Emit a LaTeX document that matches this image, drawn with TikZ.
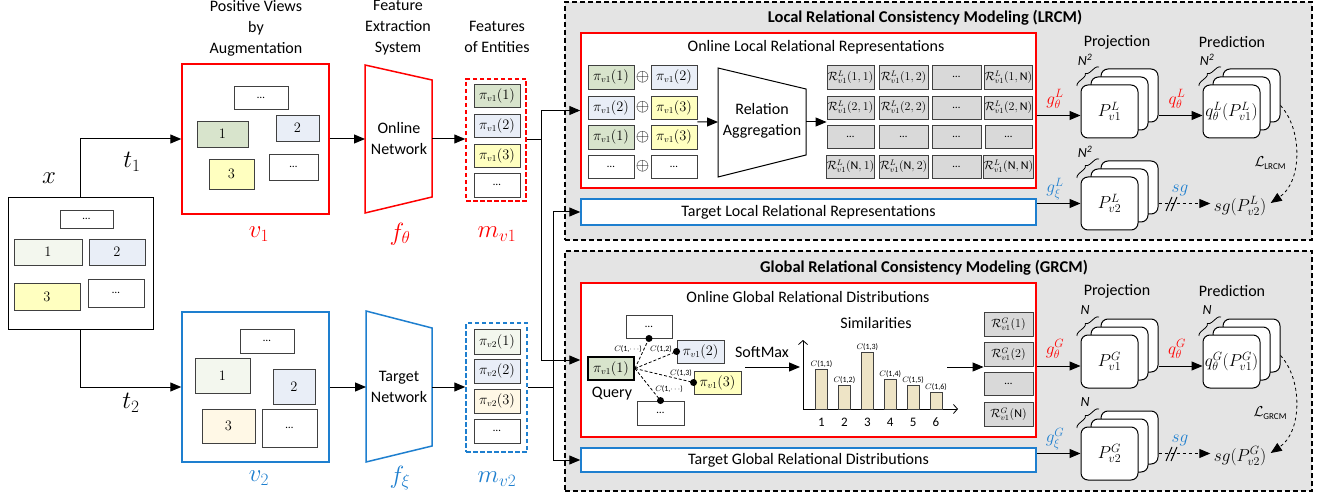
\documentclass[tikz,border=0pt]{standalone}
\usepackage{fontspec}
\setmainfont{Carlito}
\usetikzlibrary{arrows.meta,decorations.pathreplacing,calc}
\definecolor{myred}{HTML}{FF0000}
\definecolor{myblue}{HTML}{1E7FCF}
\definecolor{cgreen}{HTML}{D8E4CC}
\definecolor{cpgreen}{HTML}{F3F7EE}
\definecolor{cblue}{HTML}{E9EEF7}
\definecolor{cyellow}{HTML}{FFFFC0}
\definecolor{corange}{HTML}{FFF8E6}
\definecolor{cgray}{HTML}{D9D9D9}
\definecolor{bggray}{HTML}{E4E4E4}
\definecolor{barc}{HTML}{EEE4C6}
\definecolor{bdr}{HTML}{404040}
\newcommand{\fsz}[1]{\fontsize{#1}{#1}\selectfont}
\newcommand{\mybox}[7]{\node[#6, minimum width={(#4-#2)*1pt}, minimum height={(#5-#3)*1pt}] (#1) at ({(#2+#4)/2},{(#3+#5)/2}) {#7};}
\newcommand{\cardstack}[5]{%
  \draw[card] ({#2+20},{#3-16}) rectangle ++(57,53);
  \draw[card] ({#2+10},{#3-8}) rectangle ++(57,53);
  \node[card, minimum width=57pt, minimum height=53pt, inner sep=0pt, font=\fsz{17}] (#1) at ({#2+28.5},{#3+26.5}) {#4};
  \draw[decorate, decoration={brace, amplitude=4pt}, line width=0.8pt] ({#2-4},{#3+1}) -- ({#2+18},{#3-18});
  \node[font=\fsz{14}\itshape, inner sep=0pt] (#1n) at ({#2+4},{#3-25}) {#5};}
\begin{document}
\begin{tikzpicture}[x=1pt,y=-1pt,
  sb/.style={draw=bdr, line width=0.9pt, inner sep=0pt, font=\fsz{13.5}},
  gb/.style={sb, fill=cgray, font=\fsz{12}},
  rbox/.style={draw=myred, line width=1.5pt},
  bbox/.style={draw=myblue, line width=1.5pt},
  arr/.style={-{Triangle[length=11pt,width=9pt]}, line width=1pt},
  lbl/.style={font=\fontsize{16}{21}\selectfont, align=center, inner sep=0pt},
  big/.style={font=\fsz{23}, inner sep=0pt},
  card/.style={draw=black, fill=white, rounded corners=7pt, line width=1pt},
  dsh/.style={dash pattern=on 5pt off 3pt, line width=1.2pt, draw=black},
  sml/.style={font=\fsz{8}, inner sep=0.5pt},
]
\fill[white] (0,0) rectangle (1322,494);
\useasboundingbox (0,0) rectangle (1322,494);

% ---------- gray panels ----------
\mybox{lrcm}{565}{2}{1312}{240}{dsh, fill=bggray}{}
\mybox{grcm}{565}{251}{1312}{491}{dsh, fill=bggray}{}
\node[font=\bfseries\fsz{16.5}] (lrcmt) at (925,18) {Local Relational Consistency Modeling (LRCM)};
\node[font=\bfseries\fsz{16.5}] (grcmt) at (924,268) {Global Relational Consistency Modeling (GRCM)};

% ---------- input ----------
\node[big] (xl) at (49,178) {$x$};
\mybox{xin}{8}{198}{153}{329}{draw=black, line width=1pt}{}
\mybox{x0}{60}{210}{113}{228}{sb, fill=white}{\fsz{11}\dots}
\mybox{x1}{14}{239}{82}{265}{sb, fill=cpgreen}{$1$}
\mybox{x2}{89}{239}{145}{265}{sb, fill=cblue}{$2$}
\mybox{x3}{14}{283}{80}{310}{sb, fill=cyellow}{$3$}
\mybox{x4}{88}{279}{144}{307}{sb, fill=white}{\fsz{11}\dots}

% ---------- views ----------
\node[lbl] (posl) at (256,28) {Positive Views\\by\\Augmentation};
\mybox{v1}{182}{64}{329}{214}{rbox}{}
\mybox{v1a}{234}{86}{288}{109}{sb, fill=white}{\fsz{11}\dots}
\mybox{v1b}{197}{121}{248}{147}{sb, fill=cgreen}{$1$}
\mybox{v1c}{276}{115}{319}{141}{sb, fill=cblue}{$2$}
\mybox{v1d}{209}{159}{254}{189}{sb, fill=cyellow}{$3$}
\mybox{v1e}{269}{154}{318}{180}{sb, fill=white}{\fsz{11}\dots}
\node[big, text=myred] (v1l) at (259,234) {$v_1$};

\mybox{v2}{182}{312}{329}{462}{bbox}{}
\mybox{v2a}{240}{329}{294}{353}{sb, fill=white}{\fsz{11}\dots}
\mybox{v2b}{195}{358}{250}{393}{sb, fill=cpgreen}{$1$}
\mybox{v2c}{273}{369}{315}{404}{sb, fill=cblue}{$2$}
\mybox{v2d}{202}{409}{255}{443}{sb, fill=corange}{$3$}
\mybox{v2e}{262}{409}{317}{447}{sb, fill=white}{\fsz{11}\dots}
\node[big, text=myblue] (v2l) at (259,478) {$v_2$};

\node[big] (t1l) at (132,162) {$t_1$};
\node[big] (t2l) at (131,403) {$t_2$};
\draw[arr] (xin.north) |- (v1.west);
\draw[arr] (xin.south) |- (v2.west);

% ---------- networks ----------
\node[lbl] (fesl) at (398,28) {Feature\\Extraction\\System};
\draw[myred, line width=1.5pt] (365,65) -- (432,80) -- (432,197) -- (365,213) -- cycle;
\node[lbl] (onet) at (399,139) {Online\\Network};
\coordinate (onL) at (365,139);
\coordinate (onR) at (432,139);
\node[big, text=myred] (fth) at (400,234) {$f_\theta$};

\draw[myblue, line width=1.5pt] (366,311) -- (432,328) -- (432,446) -- (366,462) -- cycle;
\node[lbl] (tnet) at (399,387) {Target\\Network};
\coordinate (tnL) at (366,387);
\coordinate (tnR) at (432,387);
\node[big, text=myblue] (fxi) at (400,478) {$f_\xi$};

\draw[arr] (v1.east) -- (onL);
\draw[arr] (v2.east) -- (tnL);

% ---------- features ----------
\node[lbl] (fofe) at (497,37) {Features\\of Entities};
\mybox{mv1}{466}{79}{526}{201}{draw=myred, line width=1.5pt, dash pattern=on 4.5pt off 2.5pt}{}
\mybox{m11}{474}{84}{520}{107}{sb, fill=cgreen}{$\pi_{v1}(1)$}
\mybox{m12}{474}{114}{520}{137}{sb, fill=cblue}{$\pi_{v1}(2)$}
\mybox{m13}{474}{144}{520}{167}{sb, fill=cyellow}{$\pi_{v1}(3)$}
\mybox{m14}{474}{173}{520}{197}{sb, fill=white}{\fsz{11}\dots}
\node[big, text=myred] (mv1l) at (497,234) {$m_{v1}$};

\mybox{mv2}{466}{323}{527}{452}{draw=myblue, line width=1.5pt, dash pattern=on 4.5pt off 2.5pt}{}
\mybox{m21}{474}{329}{520}{354}{sb, fill=cpgreen}{$\pi_{v2}(1)$}
\mybox{m22}{474}{359}{520}{383}{sb, fill=cblue}{$\pi_{v2}(2)$}
\mybox{m23}{474}{389}{520}{413}{sb, fill=corange}{$\pi_{v2}(3)$}
\mybox{m24}{474}{419}{520}{443}{sb, fill=white}{\fsz{11}\dots}
\node[big, text=myblue] (mv2l) at (497,479) {$m_{v2}$};

\draw[arr] (onR) -- (onR -| mv1.west);
\draw[arr] (tnR) -- (tnR -| mv2.west);

% ---------- LRCM ----------
\mybox{olr}{581}{33}{1036}{188}{rbox, fill=white}{}
\node[lbl] (olrt) at (816,47) {Online Local Relational Representations};
\mybox{tlr}{581}{199}{1036}{225}{bbox, fill=white, font=\fsz{16}}{Target Local Relational Representations}

\mybox{p11}{588}{65}{634}{89}{sb, fill=cgreen}{$\pi_{v1}(1)$}
\mybox{p12}{651}{65}{697}{89}{sb, fill=cblue}{$\pi_{v1}(2)$}
\mybox{p21}{588}{96}{634}{119}{sb, fill=cblue}{$\pi_{v1}(2)$}
\mybox{p22}{651}{96}{697}{119}{sb, fill=cyellow}{$\pi_{v1}(3)$}
\mybox{p31}{588}{125}{634}{149}{sb, fill=cgreen}{$\pi_{v1}(1)$}
\mybox{p32}{651}{125}{697}{149}{sb, fill=cyellow}{$\pi_{v1}(3)$}
\mybox{p41}{588}{155}{634}{178}{sb, fill=white}{\fsz{11}\dots}
\mybox{p42}{651}{155}{697}{178}{sb, fill=white}{\fsz{11}\dots}
\foreach \r/\y in {1/77,2/107.5,3/137,4/166.5}{
  \node[font=\fsz{19}, inner sep=0pt] (op\r) at (642.5,\y) {$\oplus$};
}
\draw[line width=1pt] (718,68) -- (806,89) -- (806,155) -- (718,177) -- cycle;
\node[lbl] (rag) at (762,121) {Relation\\Aggregation};
\coordinate (raL) at (718,122);
\coordinate (raR) at (806,122);
\draw[arr] ($(p22.south east)!0.5!(p32.north east)$) -- (raL);

\mybox{r11}{827}{65}{874}{89}{gb}{$\mathcal{R}^{L}_{v1}(1,1)$}
\mybox{r12}{879}{65}{928}{89}{gb}{$\mathcal{R}^{L}_{v1}(1,2)$}
\mybox{r13}{932}{65}{981}{89}{gb}{\fsz{11}\dots}
\mybox{r14}{985}{65}{1032}{89}{gb}{$\mathcal{R}^{L}_{v1}(1,\mathrm{N})$}
\mybox{r21}{827}{96}{874}{119}{gb}{$\mathcal{R}^{L}_{v1}(2,1)$}
\mybox{r22}{879}{96}{928}{119}{gb}{$\mathcal{R}^{L}_{v1}(2,2)$}
\mybox{r23}{932}{96}{981}{119}{gb}{\fsz{11}\dots}
\mybox{r24}{985}{96}{1032}{119}{gb}{$\mathcal{R}^{L}_{v1}(2,\mathrm{N})$}
\mybox{r31}{827}{125}{874}{148}{gb}{\fsz{11}\dots}
\mybox{r32}{879}{125}{928}{148}{gb}{\fsz{11}\dots}
\mybox{r33}{932}{125}{981}{148}{gb}{\fsz{11}\dots}
\mybox{r34}{985}{125}{1032}{148}{gb}{\fsz{11}\dots}
\mybox{r41}{827}{155}{874}{178}{gb}{$\mathcal{R}^{L}_{v1}(\mathrm{N},1)$}
\mybox{r42}{879}{155}{928}{178}{gb}{$\mathcal{R}^{L}_{v1}(\mathrm{N},2)$}
\mybox{r43}{932}{155}{981}{178}{gb}{\fsz{11}\dots}
\mybox{r44}{985}{155}{1032}{178}{gb}{$\mathcal{R}^{L}_{v1}(\mathrm{N},\mathrm{N})$}
\draw[arr] (raR) -- (raR -| r21.west);

% ---------- GRCM left ----------
\mybox{ogd}{581}{283}{1036}{437}{rbox, fill=white}{}
\node[lbl] (ogdt) at (808,297) {Online Global Relational Distributions};
\mybox{tgd}{581}{448}{1036}{472}{bbox, fill=white, font=\fsz{16}}{Target Global Relational Distributions}

\mybox{qb}{588}{357}{634}{380}{sb, fill=cgreen, line width=1.8pt, draw=black}{$\pi_{v1}(1)$}
\node[lbl] (qlab) at (612,394) {Query};
\mybox{td}{626}{315}{672}{338}{sb, fill=white}{\fsz{11}\dots}
\mybox{q2}{677}{340}{724}{363}{sb, fill=cblue}{$\pi_{v1}(2)$}
\mybox{q3}{694}{371}{741}{394}{sb, fill=cyellow}{$\pi_{v1}(3)$}
\mybox{bd}{637}{401}{684}{425}{sb, fill=white}{\fsz{11}\dots}
\foreach \t in {td.south, q2.west, q3.west, bd.north}{
  \draw[densely dashed, line width=0.8pt] (qb.east) -- (\t);
  \fill (\t) circle (3.5pt);
}
\node[sml] (c1a) at (628,349) {$C$(1,$\cdots$)};
\node[sml] (c12) at (661,349) {$C$(1,2)};
\node[sml] (c13) at (681,373) {$C$(1,3)};
\node[sml] (c1b) at (669,389) {$C$(1,$\cdots$)};

\node[lbl] (smx) at (762,352) {SoftMax};
\coordinate (smL) at (745,367);
\coordinate (smR) at (800,367);
\draw[arr] (smL) -- (smR);

\node[lbl] (siml) at (876,323) {Similarities};
\coordinate (ax0) at (803,409);
\coordinate (axy) at (803,340);
\coordinate (axx) at (958,409);
\draw[line width=0.8pt, -{Straight Barb[length=4pt,width=9pt]}] (ax0) -- (axy);
\draw[line width=0.8pt, -{Straight Barb[length=4pt,width=9pt]}] (ax0) -- (axx);
\foreach \i/\h in {1/369,2/385,3/352,4/379,5/385,6/392}{
  \pgfmathsetmacro{\cx}{821.5+(\i-1)*22.9}
  \draw[draw=bdr, fill=barc, line width=0.8pt] ({\cx-6},409) rectangle ({\cx+6},\h);
  \node[sml, anchor=south] (bl\i) at (\cx,\h-1) {$C$(1,\i)};
  \node[font=\fsz{13}, inner sep=0pt] (bn\i) at (\cx,422) {\i};
}
\coordinate (simR) at (947,367);
\mybox{g1}{984}{312}{1033}{336}{gb}{$\mathcal{R}^{G}_{v1}(1)$}
\mybox{g2}{984}{342}{1033}{366}{gb}{$\mathcal{R}^{G}_{v1}(2)$}
\mybox{g3}{984}{372}{1033}{395}{gb}{\fsz{11}\dots}
\mybox{g4}{984}{402}{1033}{426}{gb}{$\mathcal{R}^{G}_{v1}(\mathrm{N})$}
\draw[arr] (simR) -- (simR -| g1.west);

% ---------- connectors from features ----------
\coordinate (j1) at (541,140);
\coordinate (j2) at (553,387);
\draw[line width=1pt] (mv1.east |- j1) -- (j1);
\draw[line width=1pt] (mv2.east |- j2) -- (j2);
\draw[arr] (j1) |- (olr.west);
\draw[arr] (j1) |- (ogd.west);
\draw[arr] (j2) |- (tlr.west);
\draw[arr] (j2) |- (tgd.west);

% ---------- right part LRCM ----------
\node[lbl] (proj1) at (1117,42) {Projection};
\node[lbl] (pred1) at (1232,42) {Prediction};
\cardstack{pv1}{1081}{85}{$P^{L}_{v1}$}{N\textsuperscript{2}}
\cardstack{pd1}{1203}{85}{$q^{L}_{\theta}(P^{L}_{v1})$}{N\textsuperscript{2}}
\cardstack{pv2}{1081}{177}{$P^{L}_{v2}$}{N\textsuperscript{2}}
\node[font=\fsz{17}] (sg1) at (1240,206) {$sg(P^{L}_{v2})$};
\draw[arr] ($(olr.east)+(0,5)$) -- ($(pv1.west)+(0,4)$);
\draw[arr] ($(pv1.east)+(20,4)$) -- ($(pd1.west)+(0,4)$);
\draw[arr] (tlr.east |- pv2.west) -- (pv2.west);
\draw[arr, dashed] ($(pv2.east)+(20,0)$) -- (pv2.east -| sg1.west);
\draw[line width=1pt] (1166,211) -- (1172,197);
\draw[line width=1pt] (1171,211) -- (1177,197);
\draw[arr, dashed, line width=0.8pt] ($(pd1.east)+(20,-6)$) .. controls (1303,130) and (1302,182) .. ($(sg1.east)+(1,-3)$);
\node[font=\fsz{17}, text=myred] (gt1) at (1055,99) {$g^{L}_{\theta}$};
\node[font=\fsz{17}, text=myred] (qt1) at (1177,99) {$q^{L}_{\theta}$};
\node[font=\fsz{17}, text=myblue] (gx1) at (1055,189) {$g^{L}_{\xi}$};
\node[font=\fsz{17}, text=myblue] (sgb1) at (1180,190) {$sg$};
\node[font=\fsz{15}] (ll) at (1270,163) {$\mathcal{L}$\raisebox{-3pt}{\fsz{9}LRCM}};

% ---------- right part GRCM ----------
\node[lbl] (proj2) at (1117,291) {Projection};
\node[lbl] (pred2) at (1232,291) {Prediction};
\cardstack{pg1}{1081}{335}{$P^{G}_{v1}$}{N}
\cardstack{pdg}{1203}{335}{$q^{G}_{\theta}(P^{G}_{v1})$}{N}
\cardstack{pg2}{1081}{427}{$P^{G}_{v2}$}{N}
\node[font=\fsz{17}] (sg2) at (1240,456) {$sg(P^{G}_{v2})$};
\draw[arr] ($(ogd.east)+(0,6)$) -- ($(pg1.west)+(0,4.5)$);
\draw[arr] ($(pg1.east)+(20,4.5)$) -- ($(pdg.west)+(0,4.5)$);
\draw[arr] (tgd.east |- pg2.west) -- (pg2.west);
\draw[arr, dashed] ($(pg2.east)+(20,0)$) -- (pg2.east -| sg2.west);
\draw[line width=1pt] (1166,461) -- (1172,447);
\draw[line width=1pt] (1171,461) -- (1177,447);
\draw[arr, dashed, line width=0.8pt] ($(pdg.east)+(20,-6)$) .. controls (1303,380) and (1302,432) .. ($(sg2.east)+(1,-3)$);
\node[font=\fsz{17}, text=myred] (gt2) at (1055,349) {$g^{G}_{\theta}$};
\node[font=\fsz{17}, text=myred] (qt2) at (1177,349) {$q^{G}_{\theta}$};
\node[font=\fsz{17}, text=myblue] (gx2) at (1055,439) {$g^{G}_{\xi}$};
\node[font=\fsz{17}, text=myblue] (sgb2) at (1180,440) {$sg$};
\node[font=\fsz{15}] (lg) at (1270,413) {$\mathcal{L}$\raisebox{-3pt}{\fsz{9}GRCM}};
\end{tikzpicture}
\end{document}
